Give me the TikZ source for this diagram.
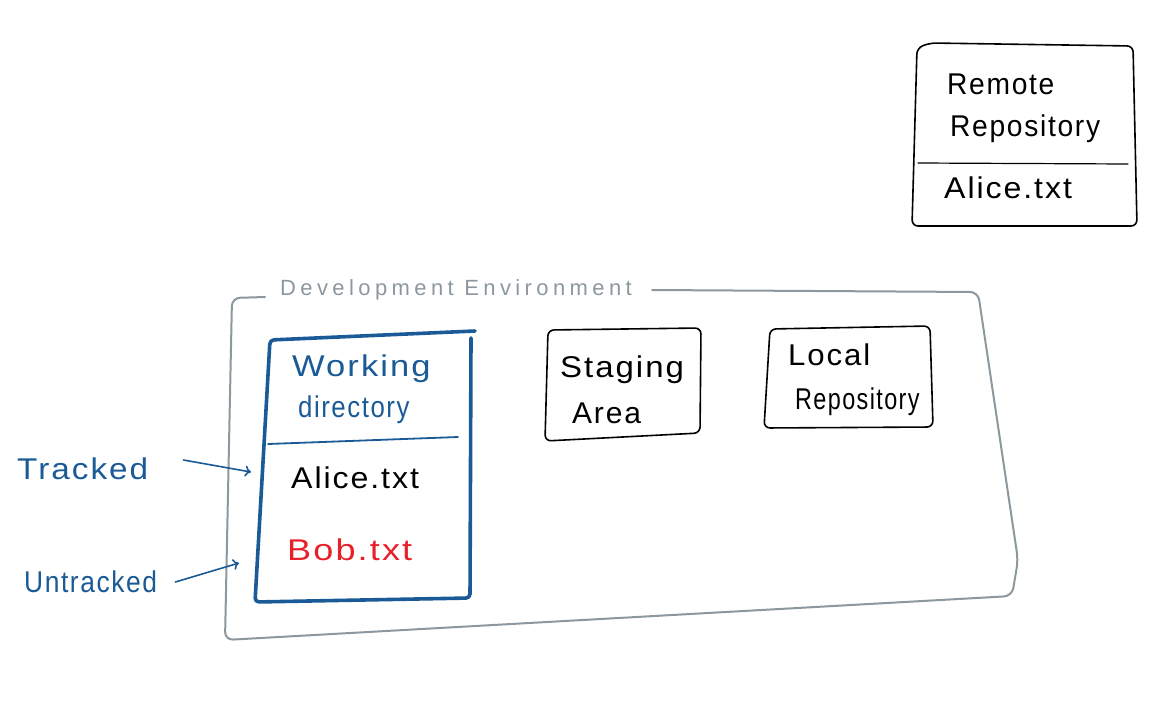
\documentclass[tikz,border=0pt]{standalone}
\usepackage{fontspec}
\setmainfont[LetterSpace=6]{Liberation Sans}
\newfontfamily\spacedfont[LetterSpace=20]{Liberation Sans}
\usetikzlibrary{arrows.meta}
\definecolor{penblue}{HTML}{1A5A96}
\definecolor{pengray}{HTML}{8C979E}
\definecolor{penred}{HTML}{E8202A}
\tikzset{
  blackline/.style={draw=black, line width=1.6pt, rounded corners=6pt},
  blueline/.style={draw=penblue, line width=3.6pt, rounded corners=4pt},
  grayline/.style={draw=pengray, line width=2pt, rounded corners=8pt},
  lbl/.style={font=\fontsize{30}{30}\selectfont, inner sep=0pt, anchor=west, xscale=#1},
  lbl/.default=1,
  arr/.style={draw=penblue, line width=1.6pt, -{To[length=6pt,width=11pt]}},
}
\begin{document}
\begin{tikzpicture}[x=1pt,y=-1pt,line join=round,line cap=round]
\useasboundingbox (0,0) rectangle (1161,725);
% Remote repository
\draw[blackline] (930,43) -- (1133,46) -- (1137,226) -- (912,226) -- (917,48) -- cycle;
\draw[black,line width=1.2pt] (918,163) -- (1128,164);
\node[lbl=0.94] (remote1) at (947,84) {Remote};
\node[lbl=0.94] (remote2) at (950,129) {Repository};
\node[lbl=1.07] (ralice) at (944,188) {Alice.txt};
% Development environment
\draw[grayline] (265,297) -- (232,298) -- (225,640) -- (1012,596) -- (1018,560) -- (978,292) -- (652,290);
\node[lbl, text=pengray, font=\spacedfont\fontsize{22}{26}\selectfont] (dev) at (280,290) {Development Environment};
% Working directory
\draw[blueline] (475,331) -- (270,340) -- (255,602) -- (470,598) -- (471,338);
\draw[penblue,line width=1.8pt] (268,444) -- (458,437);
\node[lbl=1.15, text=penblue] (wd1) at (292,369) {Working};
\node[lbl=0.86, text=penblue] (wd2) at (298,410) {directory};
\node[lbl=1.07] (walice) at (291,478) {Alice.txt};
\node[lbl=1.2, text=penred] (wbob) at (287,550) {Bob.txt};
\coordinate (tin) at (251,472);
\coordinate (uin) at (239,563);
% Staging area
\draw[blackline] (548,330) -- (701,328) -- (700,433) -- (545,441) -- cycle;
\node[lbl=1.1] (st1) at (560,370) {Staging};
\node[lbl] (st2) at (572,413) {Area};
% Local repository
\draw[blackline] (770,329) -- (930,326) -- (933,427) -- (764,428) -- cycle;
\node[lbl=1.04] (lr1) at (788,355) {Local};
\node[lbl=0.78] (lr2) at (795,402) {Repository};
% Labels
\node[lbl=1.11, text=penblue] (tracked) at (17,469) {Tracked};
\node[lbl=0.88, text=penblue] (untracked) at (24,582) {Untracked};
\draw[arr] ([xshift=35pt,yshift=9pt]tracked.east) -- (tin);
\draw[arr] ([xshift=18pt]untracked.east) -- (uin);
\end{tikzpicture}
\end{document}
